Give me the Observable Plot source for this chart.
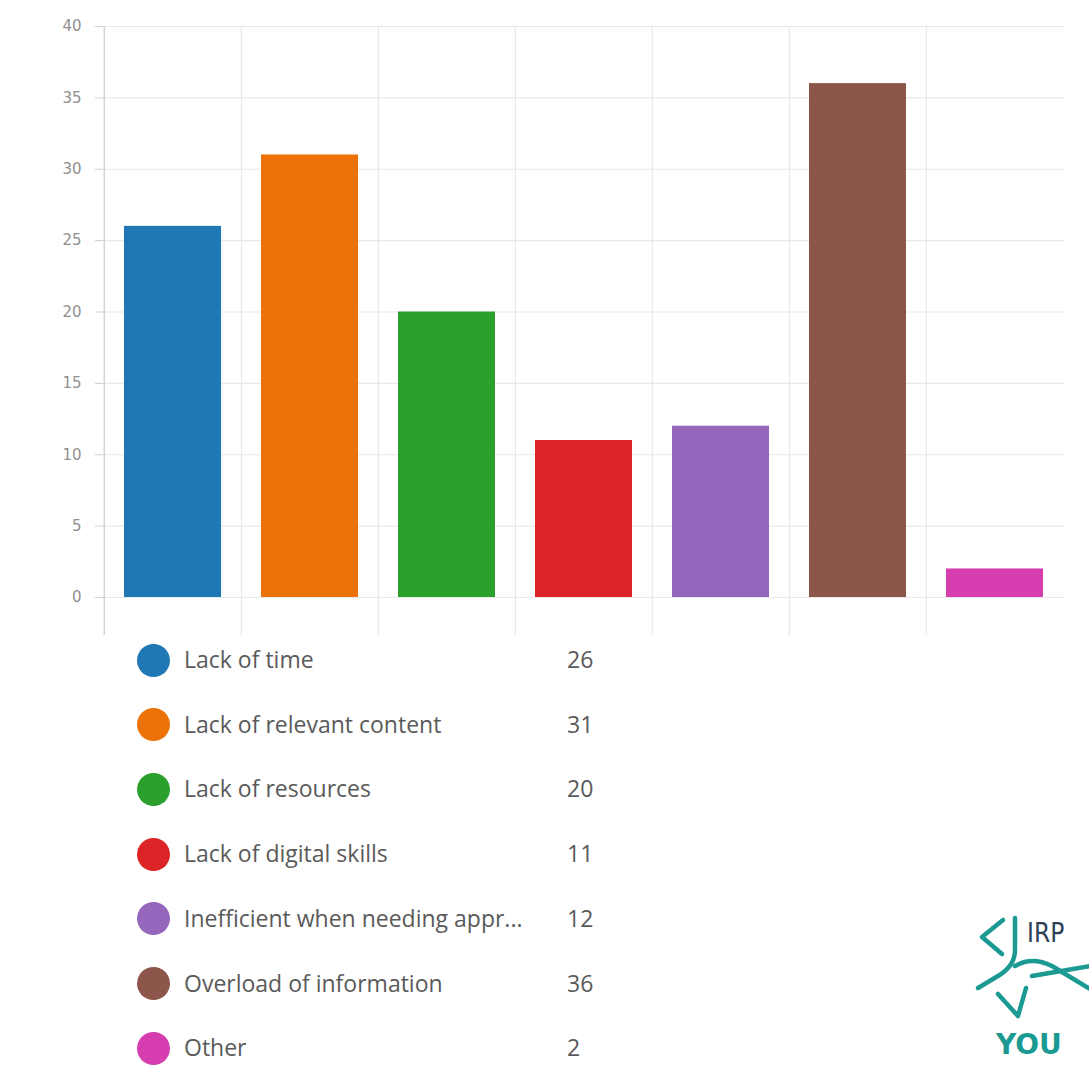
<!DOCTYPE html>
<html>
<head>
<meta charset="utf-8">
<script src="https://cdn.jsdelivr.net/npm/d3@7"></script>
<script src="https://cdn.jsdelivr.net/npm/@observablehq/plot@0.6"></script>
<style>
  html, body { margin: 0; padding: 0; background: #fff; }
  body { width: 1089px; height: 1066px; position: relative; overflow: hidden; font-family: "Open Sans", "DejaVu Sans", sans-serif; }
  #chart { position: absolute; left: 0; top: 0; }
  #legend { position: absolute; left: 0; top: 0; }
  .dot { position: absolute; width: 33px; height: 33px; border-radius: 50%; }
  .lab { position: absolute; font-size: 23px; color: #5a5a5a; white-space: nowrap; line-height: 30px; }
  .val { position: absolute; font-size: 23px; color: #5a5a5a; line-height: 30px; }
  #logo { position: absolute; left: 970px; top: 892px; }
</style>
</head>
<body>
<div id="chart"></div>
<div id="legend"></div>
<div id="logo"></div>
<script>
// ---- data ----
const categories = [
  "Lack of time",
  "Lack of relevant content",
  "Lack of resources",
  "Lack of digital skills",
  "Inefficient when needing appr...",
  "Overload of information",
  "Other"
];
const values = [26, 31, 20, 11, 12, 36, 2];
const colors = ["#1f77b4", "#ec7208", "#2ca02c", "#dc2326", "#9467bd", "#8c564b", "#d63eb0"];
const yTicks = [0, 5, 10, 15, 20, 25, 30, 35, 40];

const rows = categories.map((c, i) => ({category: c, value: values[i], color: colors[i]}));

// ---- chart ----
const W = 1089, H = 640;
const mL = 103, mR = 25, mT = 26, mB = 43;
const step = (W - mL - mR) / categories.length;

const chart = Plot.plot({
  width: W,
  height: H,
  marginLeft: mL,
  marginRight: mR,
  marginTop: mT,
  marginBottom: mB,
  style: {background: "#fff", fontFamily: "'DejaVu Sans', 'Open Sans', sans-serif"},
  x: {domain: categories, paddingInner: 0.29, paddingOuter: 0.145, axis: null},
  y: {domain: [0, 40], ticks: yTicks, axis: null},
  color: {domain: categories, range: colors},
  marks: [
    // horizontal grid
    Plot.ruleY(yTicks, {y: d => d, stroke: "#e8e8e8", strokeWidth: 1.2}),
    // vertical grid at band boundaries
    Plot.ruleX(categories, {x: d => d, dx: -step / 2, stroke: "#e8e8e8", strokeWidth: 1.2, insetBottom: -38}),
    // left axis line
    Plot.ruleX(categories.slice(0, 1), {x: d => d, dx: -step / 2, stroke: "#d4d4de", strokeWidth: 1.5, insetBottom: -38}),
    // bars
    Plot.barY(rows, {x: "category", y: "value", fill: "color"}),
    // y axis ticks + labels
    Plot.axisY(yTicks, {
      label: null,
      tickSize: 8,
      tickPadding: 14,
      fontSize: 15,
      color: "#909090",
      stroke: "#cfcfcf",
      tickFormat: d => String(d)
    })
  ]
});
document.getElementById("chart").appendChild(chart);

// ---- legend ----
const legend = document.getElementById("legend");
const top0 = 660, rowStep = 64.7;
rows.forEach((r, i) => {
  const cy = top0 + i * rowStep;
  const dot = document.createElement("div");
  dot.className = "dot";
  dot.style.left = (153 - 16.5) + "px";
  dot.style.top = (cy - 16.5) + "px";
  dot.style.background = r.color;
  legend.appendChild(dot);

  const lab = document.createElement("div");
  lab.className = "lab";
  lab.style.left = "184px";
  lab.style.top = (cy - 16) + "px";
  lab.textContent = r.category;
  legend.appendChild(lab);

  const val = document.createElement("div");
  val.className = "val";
  val.style.left = "567px";
  val.style.top = (cy - 16) + "px";
  val.textContent = r.value;
  legend.appendChild(val);
});

// ---- logo (decorative, partially cut off like the reference) ----
document.getElementById("logo").innerHTML = `
<svg width="119" height="170" xmlns="http://www.w3.org/2000/svg">
  <g fill="none" stroke="#1a9a92" stroke-width="4.5" stroke-linecap="round" stroke-linejoin="round">
    <path d="M33 28 L12 45 L32 62"/>
    <path d="M45 26 L45 58 Q45 74 28 84 L8 96"/>
    <path d="M45 74 Q62 64 82 74 L125 100"/>
    <path d="M28 102 L48 124 L56 96"/>
    <path d="M62 84 L120 74"/>
  </g>
  <text x="57" y="50" font-family="'Liberation Sans Narrow','DejaVu Sans Condensed',sans-serif" font-size="26" fill="#2e4057">IRP</text>
  <text x="26" y="162" font-family="'DejaVu Sans',sans-serif" font-size="28" font-weight="bold" fill="#1a9a92">YOU</text>
</svg>`;
</script>
</body>
</html>
